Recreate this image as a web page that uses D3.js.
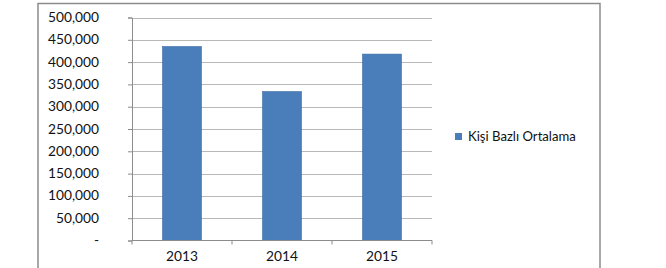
<!DOCTYPE html>
<html><head><meta charset="utf-8">
<script src="https://cdn.jsdelivr.net/npm/d3@7"></script>
<style>body{margin:0;background:#fff;} svg{display:block;}</style>
</head><body>
<svg id="c" width="666" height="268"></svg>
<script>
const categories = ["2013", "2014", "2015"];
const values = [435000, 334000, 418000];
const yTicks = [0, 50000, 100000, 150000, 200000, 250000, 300000, 350000, 400000, 450000, 500000];
const seriesName = "Kişi Bazlı Ortalama";

const svg = d3.select("#c");
const font = "Lato, 'Open Sans', sans-serif";
const L = 132, R = 432, T = 17.5, B = 240.5;

function stretch(sel, k) {
  sel.each(function () {
    const w = this.getComputedTextLength();
    d3.select(this).attr("textLength", w * k).attr("lengthAdjust", "spacingAndGlyphs");
  });
}

// outer frame
svg.append("rect").attr("x", 38).attr("y", 3.5).attr("width", 562).attr("height", 280)
  .attr("fill", "#fff").attr("stroke", "#8c8c8c").attr("stroke-width", 1.5);

const x = d3.scaleBand().domain(categories).range([L, R]).paddingInner(0.61).paddingOuter(0.305);
const y = d3.scaleLinear().domain([0, 500000]).range([B, T]);

// gridlines
svg.append("g").selectAll("line").data(yTicks.filter(d => d > 0)).join("line")
  .attr("x1", L).attr("x2", R).attr("y1", d => Math.round(y(d)) + 0.5).attr("y2", d => Math.round(y(d)) + 0.5)
  .attr("stroke", "#b8b8b8").attr("stroke-width", 1);

// y axis
const fmt = d => d === 0 ? "-" : d3.format(",")(d);
const ya = svg.append("g").attr("transform", `translate(${L},0)`)
  .call(d3.axisLeft(y).tickValues(yTicks).tickFormat(fmt).tickSize(4).tickPadding(29));
ya.select(".domain").attr("stroke", "#8c8c8c");
ya.selectAll(".tick line").attr("stroke", "#8c8c8c");
ya.selectAll("text").attr("font-family", font).attr("font-size", 12.5).attr("fill", "#111");
stretch(ya.selectAll("text"), 1.1);

// bars
svg.append("g").selectAll("rect").data(values).join("rect")
  .attr("x", (d, i) => x(categories[i])).attr("width", x.bandwidth())
  .attr("y", d => y(d)).attr("height", d => B - y(d))
  .attr("fill", "#4a7ebb").attr("stroke", "#3f6fa8").attr("stroke-width", 0.6);

// x axis
const xb = d3.scalePoint().domain([0, 1, 2, 3]).range([L, R]);
const xa = svg.append("g").attr("transform", `translate(0,${B})`);
xa.append("line").attr("x1", L).attr("x2", R).attr("stroke", "#8c8c8c");
xa.selectAll("line.t").data(xb.domain()).join("line").attr("class", "t")
  .attr("x1", d => xb(d)).attr("x2", d => xb(d)).attr("y1", 0).attr("y2", 4).attr("stroke", "#8c8c8c");
const xt = xa.selectAll("text").data(categories).join("text")
  .attr("x", d => x(d) + x.bandwidth() / 2).attr("y", 20)
  .attr("text-anchor", "middle").attr("font-family", font).attr("font-size", 12.5).attr("fill", "#111")
  .text(d => d);
stretch(xt, 1.1);

// legend
const lg = svg.append("g");
lg.append("rect").attr("x", 455).attr("y", 133).attr("width", 7).attr("height", 7).attr("fill", "#4a7ebb");
const lt = lg.append("text").attr("x", 468).attr("y", 141).attr("font-family", font).attr("font-size", 12.5)
  .attr("fill", "#111").text(seriesName);
stretch(lt, 1.05);
</script>
</body></html>
